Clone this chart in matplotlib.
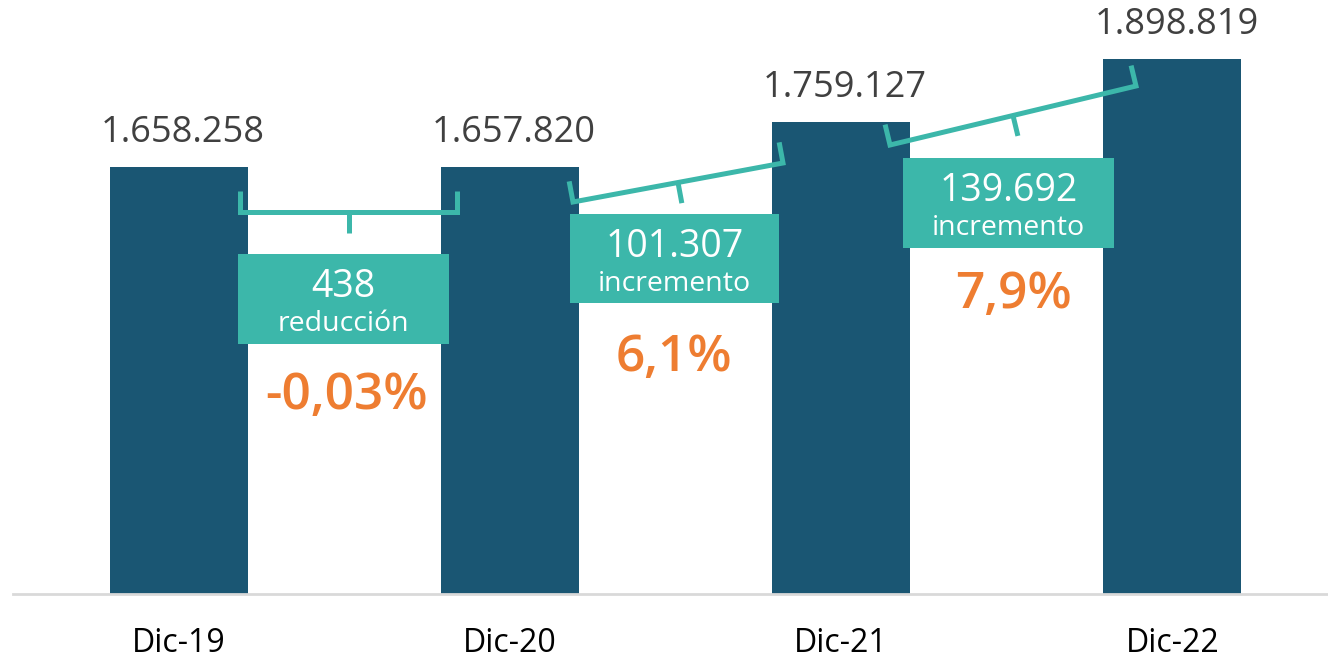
import matplotlib.pyplot as plt
from matplotlib.patches import Rectangle
import numpy as np

plt.rcParams['font.family'] = ['Open Sans', 'DejaVu Sans']

# data
periods = ['Dic-19', 'Dic-20', 'Dic-21', 'Dic-22']
values = [1658258, 1657820, 1759127, 1898819]
value_labels = ['1.658.258', '1.657.820', '1.759.127', '1.898.819']
change_nums = ['438', '101.307', '139.692']
change_words = ['reducción', 'incremento', 'incremento']
change_pcts = ['-0,03%', '6,1%', '7,9%']

BAR = '#1a5673'
TEAL = '#3cb7aa'
ORANGE = '#ee7d31'
W, H = 1328, 658

fig = plt.figure(figsize=(W / 100, H / 100), dpi=100)
ax = fig.add_axes([13 / W, 64 / H, (W - 13) / W, 594 / H])

x = np.arange(len(periods))
bars = ax.bar(x, values, width=0.417, color=BAR, zorder=2)
ax.set_ylim(707500, 2030500)
ax.set_xlim(-0.5, 3.47)

for xi, v, lab in zip(x, values, value_labels):
    ax.annotate(lab, (xi, v), xytext=(3, 24.5), textcoords='offset points',
                ha='center', va='center', fontsize=26, color='#404040')

ax.set_xticks(x, periods)
ax.tick_params(axis='x', length=0, pad=24, labelsize=23, labelcolor='black')
ax.set_yticks([])
for s in ['top', 'right', 'left']:
    ax.spines[s].set_visible(False)
ax.spines['bottom'].set_color('#d9d9d9')
ax.spines['bottom'].set_linewidth(2)


def px(xp, yp):
    return xp / W, 1 - yp / H


# brackets between bars (pixel layout)
brackets = [((240, 212), (457, 212)), ((573, 202), (783, 163)), ((890, 145), (1136, 86))]
tick = 21
for (x0, y0), (x1, y1) in brackets:
    d = np.array([x1 - x0, y1 - y0], dtype=float)
    d /= np.hypot(*d)
    n = np.array([d[1], -d[0]])  # points "up" in pixel space (y grows downward)
    p0 = np.array([x0, y0]) + n * tick
    p1 = np.array([x1, y1]) + n * tick
    pts = [p0, (x0, y0), (x1, y1), p1]
    fx, fy = zip(*[px(*p) for p in pts])
    fig.add_artist(plt.Line2D(fx, fy, transform=fig.transFigure, color=TEAL,
                              lw=3.6, solid_joinstyle='miter', solid_capstyle='butt'))
    mid = (np.array([x0, y0]) + np.array([x1, y1])) / 2
    m2 = mid - n * tick
    fx, fy = zip(px(*mid), px(*m2))
    fig.add_artist(plt.Line2D(fx, fy, transform=fig.transFigure, color=TEAL,
                              lw=3.6, solid_capstyle='butt'))

# boxes with change amounts
boxes = [(238, 254, 449, 344), (570, 214, 779, 303), (903, 158, 1114, 248)]
for (bx0, by0, bx1, by1), num, word in zip(boxes, change_nums, change_words):
    lx, ly = px(bx0, by1)
    fig.add_artist(Rectangle((lx, ly), (bx1 - bx0) / W, (by1 - by0) / H,
                             transform=fig.transFigure, color=TEAL, lw=0))
    cx = (bx0 + bx1) / 2
    fig.text(*px(cx, by0 + 33), num, ha='center', va='center', fontsize=27, color='white')
    fig.text(*px(cx, by0 + 70), word, ha='center', va='center', fontsize=20.5, color='white')

pct_pos = [(347, 396), (674, 358), (1014, 295)]
for (ppx, ppy), p in zip(pct_pos, change_pcts):
    fig.text(*px(ppx, ppy), p, ha='center', va='center', fontsize=37,
             color=ORANGE, fontweight='semibold')

fig.savefig('out.png', dpi=100)
